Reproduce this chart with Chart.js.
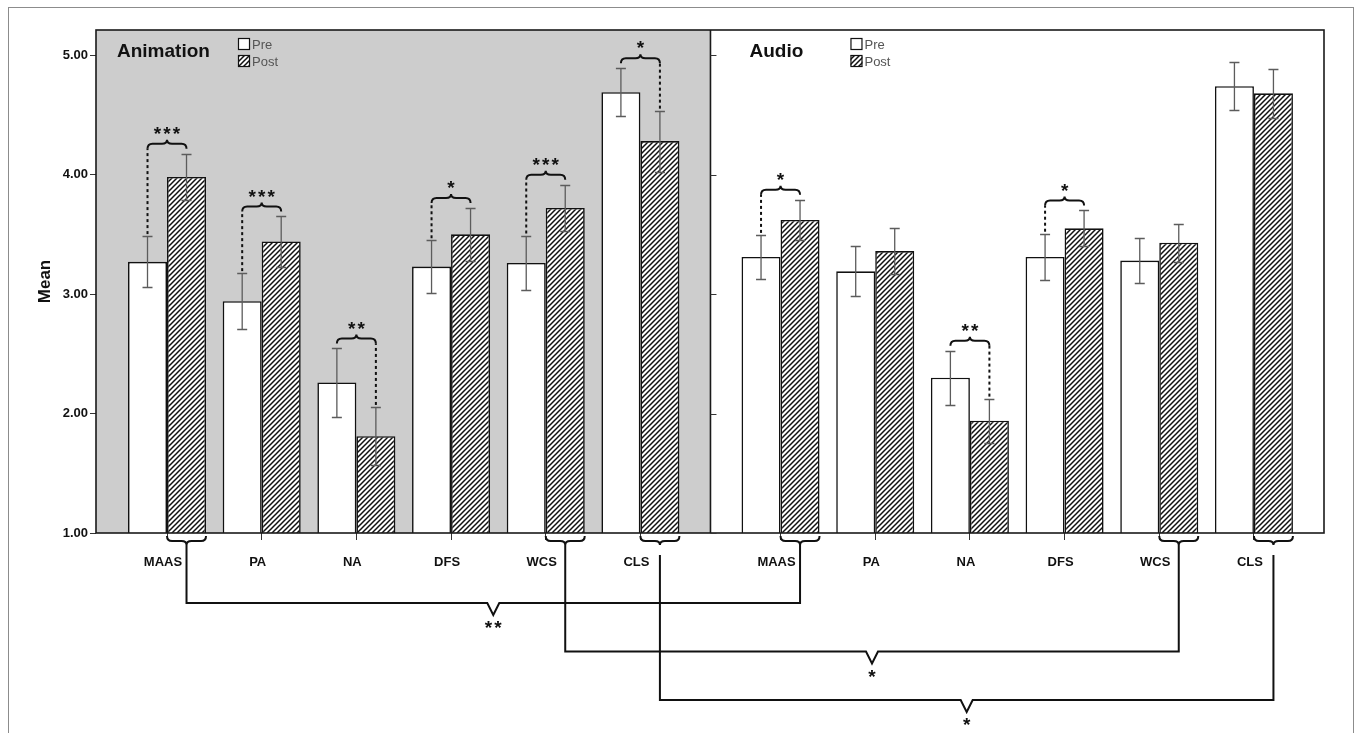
<!DOCTYPE html>
<html>
<head>
<meta charset="utf-8">
<script src="https://cdn.jsdelivr.net/npm/chart.js@4.4.1/dist/chart.umd.min.js"></script>
<style>
  html, body { margin: 0; padding: 0; background: #fff; }
  #frame { position: absolute; left: 8px; top: 7px; width: 1346px; height: 760px; border: 1.5px solid #8c8c8c; box-sizing: border-box; }
  #wrap { position: absolute; left: 0; top: 0; width: 1356px; height: 733px; }
</style>
</head>
<body>
<div id="frame"></div>
<div id="wrap"><canvas id="myChart" width="1356" height="733"></canvas></div>
<script>
const categories = ['MAAS', 'PA', 'NA', 'DFS', 'WCS', 'CLS'];
const panels = ['Animation', 'Audio'];
const seriesNames = ['Pre', 'Post'];
const yTicks = [1, 2, 3, 4, 5];

const animationPre  = [3.27, 2.94, 2.26, 3.23, 3.26, 4.69];
const animationPost = [3.98, 3.44, 1.81, 3.50, 3.72, 4.28];
const audioPre      = [3.31, 3.19, 2.30, 3.31, 3.28, 4.74];
const audioPost     = [3.62, 3.36, 1.94, 3.55, 3.43, 4.68];

// half width of each error bar
const animationPreErr  = [0.215, 0.235, 0.285, 0.22, 0.23, 0.20];
const animationPostErr = [0.195, 0.21, 0.245, 0.22, 0.195, 0.255];
const audioPreErr      = [0.185, 0.21, 0.225, 0.195, 0.19, 0.20];
const audioPostErr     = [0.17, 0.195, 0.185, 0.15, 0.16, 0.205];

// pre vs post, inside each panel
const animationStars = ['***', '***', '**', '*', '***', '*'];
const audioStars     = ['*', '', '**', '*', '', ''];

// animation post vs audio post, under the axis
const crossCategories = ['MAAS', 'WCS', 'CLS'];
const crossStars      = ['**', '*', '*'];

// layout of the two panels on one linear x axis
const audioShift = 6.48;
const dividerX = 5.74;
const xMin = -0.75, xMax = 12.22;

let hatchCanvas = document.createElement('canvas');
hatchCanvas.width = hatchCanvas.height = 5;
let hg = hatchCanvas.getContext('2d');
hg.fillStyle = '#fff';
hg.fillRect(0, 0, 5, 5);
hg.strokeStyle = '#111';
hg.lineWidth = 1.5;
hg.beginPath();
hg.moveTo(-1, 6); hg.lineTo(6, -1);
hg.moveTo(-1, 1); hg.lineTo(1, -1);
hg.moveTo(4, 6); hg.lineTo(6, 4);
hg.stroke();
let hatch = hg.createPattern(hatchCanvas, 'repeat');

let toPoints = (a, b, shift) => [
    ...a.map((v, i) => ({x: i, y: v})),
    ...b.map((v, i) => ({x: i + shift, y: v}))
];
let xPositions = [...categories.map((c, i) => i), ...categories.map((c, i) => i + audioShift)];
let xLabels = [...categories, ...categories];
let panelStars = [animationStars, audioStars];

let font = '"Liberation Sans", Arial, sans-serif';

let drawBrace = (ctx, x1, x2, y0, dir) => {
    // dir -1: tip up, 1: tip down
    let h = 5 * dir, t = 4 * dir, r = 5, m = (x1 + x2) / 2;
    ctx.beginPath();
    ctx.moveTo(x1, y0);
    ctx.quadraticCurveTo(x1, y0 + h, x1 + r, y0 + h);
    ctx.lineTo(m - r, y0 + h);
    ctx.quadraticCurveTo(m, y0 + h, m, y0 + h + t);
    ctx.quadraticCurveTo(m, y0 + h, m + r, y0 + h);
    ctx.lineTo(x2 - r, y0 + h);
    ctx.quadraticCurveTo(x2, y0 + h, x2, y0);
    ctx.stroke();
};

let drawStars = (ctx, s, cx, cy) => {
    ctx.font = 'bold 19px ' + font;
    ctx.textAlign = 'center';
    ctx.textBaseline = 'middle';
    for (let k = 0; k < s.length; k++) {
        ctx.fillText('*', cx + (k - (s.length - 1) / 2) * 9.5, cy + 4);
    }
};

let panelPlugin = {
    id: 'panels',
    beforeDatasetsDraw(chart) {
        let {ctx, chartArea: a, scales: {x}} = chart;
        let dx = x.getPixelForValue(dividerX);
        ctx.save();
        ctx.fillStyle = '#cdcdcd';
        ctx.fillRect(a.left, a.top, dx - a.left, a.bottom - a.top);
        ctx.restore();
    },
    afterDatasetsDraw(chart) {
        let {ctx, chartArea: a, scales: {x, y}} = chart;
        let dx = x.getPixelForValue(dividerX);
        let pre = chart.getDatasetMeta(0).data;
        let post = chart.getDatasetMeta(1).data;
        let sets = chart.data.datasets;
        ctx.save();

        // error bars
        ctx.strokeStyle = '#5c5c5c';
        ctx.lineWidth = 1.3;
        sets.forEach((ds, di) => {
            chart.getDatasetMeta(di).data.forEach((bar, i) => {
                let v = ds.data[i].y, e = ds.errors[i];
                let t = Math.round(y.getPixelForValue(v + e)) + 0.5;
                let b = Math.round(y.getPixelForValue(v - e)) + 0.5;
                ctx.beginPath();
                ctx.moveTo(bar.x, t); ctx.lineTo(bar.x, b);
                ctx.moveTo(bar.x - 5, t); ctx.lineTo(bar.x + 5, t);
                ctx.moveTo(bar.x - 5, b); ctx.lineTo(bar.x + 5, b);
                ctx.stroke();
            });
        });

        // frame, divider and inner ticks
        ctx.strokeStyle = '#1a1a1a';
        ctx.lineWidth = 1.6;
        ctx.strokeRect(a.left, a.top, a.right - a.left, a.bottom - a.top);
        ctx.beginPath();
        ctx.moveTo(dx, a.top); ctx.lineTo(dx, a.bottom);
        ctx.stroke();
        ctx.lineWidth = 1;
        ctx.strokeStyle = '#333';
        yTicks.forEach(t => {
            let py = Math.round(y.getPixelForValue(t)) + 0.5;
            ctx.beginPath();
            ctx.moveTo(dx, py); ctx.lineTo(dx + 6, py);
            ctx.stroke();
        });

        // pre/post braces
        ctx.strokeStyle = '#111';
        ctx.fillStyle = '#111';
        panelStars.forEach((stars, p) => {
            stars.forEach((s, i) => {
                if (!s) return;
                let k = p * categories.length + i;
                let capPre = y.getPixelForValue(sets[0].data[k].y + sets[0].errors[k]);
                let capPost = y.getPixelForValue(sets[1].data[k].y + sets[1].errors[k]);
                let y0 = Math.min(capPre, capPost) - 5;
                let lowX = capPre > capPost ? pre[k].x : post[k].x;
                ctx.lineWidth = 2;
                ctx.setLineDash([3, 3]);
                ctx.beginPath();
                ctx.moveTo(lowX, Math.max(capPre, capPost) - 2);
                ctx.lineTo(lowX, y0);
                ctx.stroke();
                ctx.setLineDash([]);
                drawBrace(ctx, pre[k].x, post[k].x, y0, -1);
                drawStars(ctx, s, (pre[k].x + post[k].x) / 2, y0 - 18);
            });
        });

        // animation vs audio brackets below the axis
        crossCategories.forEach((c, n) => {
            let i = categories.indexOf(c);
            let ends = [post[i], post[i + categories.length]].map(b => {
                drawBrace(ctx, b.x - b.width / 2, b.x + b.width / 2, a.bottom + 3, 1);
                return b.x;
            });
            let tip = a.bottom + 12 + (n === 2 ? 10 : 0);
            let ly = a.bottom + 70 + n * 48.5;
            let m = (ends[0] + ends[1]) / 2;
            ctx.lineWidth = 2;
            ctx.beginPath();
            ctx.moveTo(ends[0], tip);
            ctx.lineTo(ends[0], ly);
            ctx.lineTo(m - 6, ly);
            ctx.lineTo(m, ly + 12);
            ctx.lineTo(m + 6, ly);
            ctx.lineTo(ends[1], ly);
            ctx.lineTo(ends[1], tip);
            ctx.stroke();
            drawStars(ctx, crossStars[n], m, ly + 22);
        });

        // panel titles and legends
        let lefts = [a.left, dx];
        panels.forEach((name, p) => {
            let lx = lefts[p];
            ctx.font = 'bold 19px ' + font;
            ctx.textAlign = 'left';
            ctx.textBaseline = 'alphabetic';
            ctx.fillStyle = '#111';
            ctx.fillText(name, lx + (p ? 39 : 21), 57);
            let sx = lx + (p ? 140 : 142);
            seriesNames.forEach((s, si) => {
                let sy = 38 + si * 17;
                ctx.fillStyle = si ? hatch : '#fff';
                ctx.fillRect(sx, sy, 12, 12);
                ctx.lineWidth = 1.2;
                ctx.strokeStyle = '#111';
                ctx.strokeRect(sx + 0.5, sy + 0.5, 11, 11);
                ctx.fillStyle = '#555';
                ctx.font = '13px ' + font;
                ctx.fillText(s, sx + 14, sy + 11);
            });
        });
        ctx.restore();
    }
};

new Chart(document.getElementById('myChart'), {
    type: 'bar',
    data: {
        datasets: [
            {
                label: seriesNames[0],
                data: toPoints(animationPre, audioPre, audioShift),
                errors: [...animationPreErr, ...audioPreErr],
                backgroundColor: '#fff',
                borderColor: '#111',
                borderWidth: 1.6
            },
            {
                label: seriesNames[1],
                data: toPoints(animationPost, audioPost, audioShift),
                errors: [...animationPostErr, ...audioPostErr],
                backgroundColor: hatch,
                borderColor: '#111',
                borderWidth: 1.6
            }
        ]
    },
    options: {
        responsive: false,
        animation: false,
        layout: {padding: {left: 0, top: 30, right: 32, bottom: 0}},
        datasets: {bar: {barPercentage: 1, categoryPercentage: 0.824}},
        plugins: {legend: {display: false}, tooltip: {enabled: false}},
        scales: {
            x: {
                type: 'linear',
                offset: false,
                min: xMin,
                max: xMax,
                afterBuildTicks: s => { s.ticks = xPositions.map(v => ({value: v})); },
                afterFit: s => { s.height = 200; },
                border: {display: false},
                grid: {offset: false, drawOnChartArea: false, tickLength: 7, color: '#333'},
                ticks: {
                    autoSkip: false,
                    maxRotation: 0,
                    padding: 15,
                    labelOffset: -4,
                    color: '#111',
                    font: {family: font, size: 13, weight: 'bold'},
                    callback: (v, i) => xLabels[i]
                }
            },
            y: {
                min: 1,
                max: 5.21,
                afterBuildTicks: s => { s.ticks = yTicks.map(v => ({value: v})); },
                afterFit: s => { s.width = 96; },
                border: {display: false},
                grid: {drawOnChartArea: false, tickLength: 6, color: '#333'},
                ticks: {
                    padding: 2,
                    color: '#111',
                    font: {family: font, size: 13, weight: 'bold'},
                    callback: v => v.toFixed(2)
                },
                title: {
                    display: true,
                    text: 'Mean',
                    color: '#111',
                    font: {family: font, size: 17, weight: 'bold'},
                    padding: {top: 35}
                }
            }
        }
    },
    plugins: [panelPlugin]
});
</script>
</body>
</html>
